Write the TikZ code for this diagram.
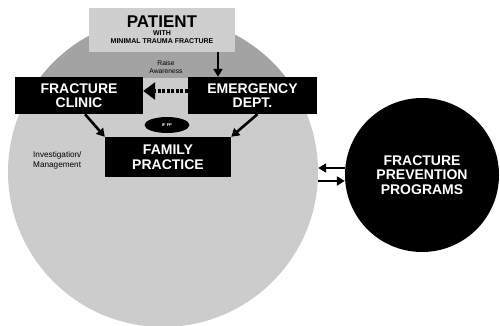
\documentclass[tikz,border=0pt]{standalone}
\usepackage{fontspec}
\setmainfont{Liberation Sans}
\usetikzlibrary{arrows.meta,shapes.geometric}
\definecolor{capgray}{gray}{0.64}
\definecolor{discgray}{gray}{0.8}
\definecolor{patgray}{gray}{0.81}
\tikzset{
	blkbox/.style={fill=black, text=white, align=center, inner sep=0pt, font=\bfseries\fontsize{14}{14.5}\selectfont},
	conn/.style={line width=2.6pt, -{Triangle[length=8pt,width=9pt]}},
	smalltxt/.style={font=\fontsize{6.7}{8.5}\selectfont, align=center, inner sep=0pt}
}
\begin{document}
\begin{tikzpicture}[x=1pt, y=-1pt]
		\useasboundingbox (0,0) rectangle (500,325);
		\begin{scope}
			\node[circle, fill=discgray, minimum size=310pt, inner sep=0pt] (disc) at (163,172) {};
			\clip (163,172) circle[radius=155pt];
			\fill[capgray] (0,0) rectangle (500,78);
		\end{scope}
		
		\node[fill=patgray, minimum width=146pt, minimum height=44pt, inner sep=0pt, align=center, font=\bfseries\fontsize{7}{8}\selectfont] (patient) at (162,30) {{\fontsize{17}{18}\selectfont PATIENT}\\WITH\\MINIMAL TRAUMA FRACTURE};
		\node[blkbox, minimum width=128pt, minimum height=37pt] (fc) at (79,95.5) {FRACTURE\\CLINIC};
		\node[blkbox, minimum width=129pt, minimum height=37pt] (ed) at (252.5,95.5) {EMERGENCY\\DEPT.};
		\node[blkbox, minimum width=126pt, minimum height=40pt] (fp) at (168,157) {FAMILY\\PRACTICE};
		\node[ellipse, fill=black, text=white, minimum width=45pt, minimum height=16pt, inner sep=0pt, font=\bfseries\fontsize{4}{5}\selectfont] (iffp) at (167,125) {IF FP};
		\node[circle, fill=black, text=white, minimum size=154pt, inner sep=0pt, align=center, font=\bfseries\fontsize{14}{14.5}\selectfont] (fpp) at (422,175) {FRACTURE\\PREVENTION\\PROGRAMS};
		
		\node[smalltxt] (raise) at (166,67) {Raise\\Awareness};
		\node[smalltxt, font=\fontsize{8.2}{10}\selectfont, align=left, anchor=west] (invest) at (33,160) {Investigation/\\Management};
		
		\draw[conn] ([xshift=56pt]patient.south) -- ([xshift=56pt]patient.south |- ed.north);
		\draw[conn] ([xshift=6pt]fc.south) -- (fp.north west);
		\draw[conn] ([xshift=5pt]ed.south) -- (fp.north east);
		\draw[line width=4pt, dash pattern=on 3pt off 1.5pt, -{Triangle[length=12pt,width=17pt]}] ([yshift=4.5pt]ed.west) -- ([yshift=4.5pt]fc.east);
		\draw[conn, line width=2.4pt] ([yshift=7pt]fpp.west) -- ([yshift=4pt]disc.east);
		\draw[conn, line width=2.4pt] ([yshift=-9pt]disc.east) -- ([yshift=-6pt]fpp.west);
	\end{tikzpicture}
\end{document}
